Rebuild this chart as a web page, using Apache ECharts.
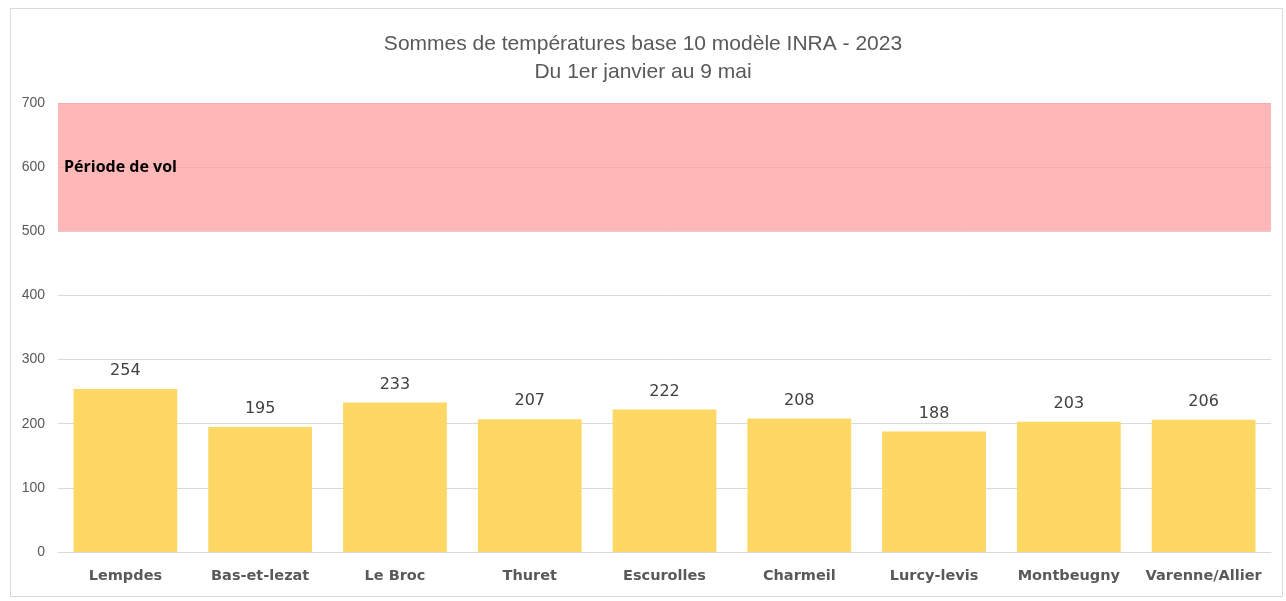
<!DOCTYPE html>
<html>
<head>
<meta charset="utf-8">
<script src="https://cdn.jsdelivr.net/npm/echarts@6/dist/echarts.min.js"></script>
<style>
  html, body { margin: 0; padding: 0; background: #fff; }
  #chart { width: 1286px; height: 601px; }
</style>
</head>
<body>
<div id="chart"></div>
<script>
// stations et sommes de températures
const stations = ['Lempdes', 'Bas-et-lezat', 'Le Broc', 'Thuret', 'Escurolles', 'Charmeil', 'Lurcy-levis', 'Montbeugny', 'Varenne/Allier'];
const sommes = [254, 195, 233, 207, 222, 208, 188, 203, 206];
const periodeVol = [500, 700];
const yTicks = [0, 100, 200, 300, 400, 500, 600, 700];

const chart = echarts.init(document.getElementById('chart'));

chart.setOption({
  animation: false,
  title: {
    text: 'Sommes de températures base 10 modèle INRA - 2023\nDu 1er janvier au 9 mai',
    left: 'center',
    top: 25,
    textStyle: {
      fontFamily: 'Liberation Sans',
      fontSize: 21,
      fontWeight: 'normal',
      color: '#595959',
      lineHeight: 28
    }
  },
  graphic: [{
    type: 'rect',
    shape: { x: 10.5, y: 8.5, width: 1272, height: 588 },
    style: { fill: 'none', stroke: '#d9d9d9', lineWidth: 1 },
    silent: true
  }],
  grid: { left: 58, right: 15, top: 103, bottom: 49 },
  xAxis: {
    type: 'category',
    data: stations,
    axisTick: { show: false },
    axisLine: { lineStyle: { color: '#d9d9d9' } },
    axisLabel: {
      interval: 0,
      fontFamily: 'DejaVu Sans',
      fontSize: 14.5,
      fontWeight: 'bold',
      color: '#595959',
      margin: 17
    }
  },
  yAxis: {
    type: 'value',
    min: yTicks[0],
    max: yTicks[yTicks.length - 1],
    interval: 100,
    axisLine: { show: false },
    axisTick: { show: false },
    splitLine: { lineStyle: { color: '#d9d9d9' } },
    axisLabel: {
      fontFamily: 'Liberation Sans',
      fontSize: 14,
      color: '#595959',
      margin: 13
    }
  },
  series: [{
    type: 'bar',
    data: sommes,
    barCategoryGap: '23%',
    itemStyle: { color: '#fdd865' },
    label: {
      show: true,
      position: 'top',
      distance: 10,
      fontFamily: 'DejaVu Sans',
      fontSize: 16,
      color: '#404040'
    },
    markArea: {
      silent: true,
      itemStyle: { color: 'rgba(255, 153, 153, 0.7)' },
      label: {
        show: true,
        position: 'insideLeft',
        distance: 6,
        fontFamily: 'Open Sans',
        fontSize: 16,
        fontWeight: 'bold',
        color: '#000'
      },
      data: [[
        { name: 'Période de vol', yAxis: periodeVol[0] },
        { yAxis: periodeVol[1] }
      ]]
    }
  }]
});
</script>
</body>
</html>
